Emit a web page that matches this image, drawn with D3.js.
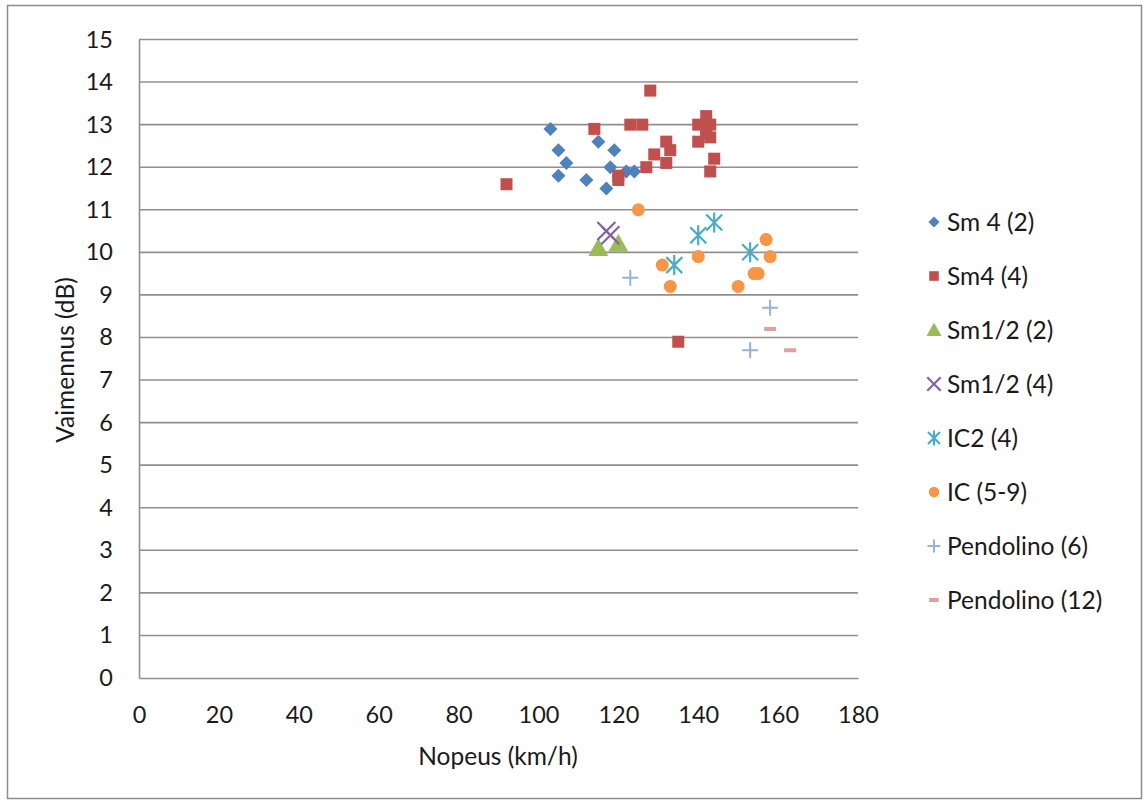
<!DOCTYPE html>
<html lang="fi">
<head>
<meta charset="UTF-8">
<title>Vaimennus vs. nopeus</title>
<script src="https://d3js.org/d3.v7.min.js"></script>
<style>
    body { margin: 0; background: #fff; }
    svg { display: block; font-family: Lato, "Open Sans", sans-serif; }
    .tick text { font-size: 23.5px; fill: #1a1a1a; }
    .title { font-size: 24.5px; fill: #1a1a1a; }
    .legend text { font-size: 24.5px; fill: #1a1a1a; }
</style>
</head>
<body>
<svg width="1144" height="803"></svg>
<script>
// data: [km/h, dB]
const sm4_2 = [[103,12.9],[105,12.4],[107,12.1],[105,11.8],[112,11.7],[115,12.6],[119,12.4],
    [118,12.0],[117,11.5],[122,11.9],[124,11.9]];
const sm4_4 = [[92,11.6],[128,13.8],[114,12.9],[123,13.0],[126,13.0],[120,11.8],[120,11.7],
    [127,12.0],[129,12.3],[132,12.6],[133,12.4],[132,12.1],[140,12.6],[140,13.0],[142,13.2],
    [143,13.0],[142,12.8],[142,12.9],[143,12.7],[144,12.2],[143,11.9],[135,7.9]];
const sm12_2 = [[115,10.1],[120,10.2]];
const sm12_4 = [[117,10.5],[118,10.4]];
const ic2_4 = [[134,9.7],[140,10.4],[144,10.7],[153,10.0]];
const ic5_9 = [[125,11.0],[131,9.7],[133,9.2],[140,9.9],[150,9.2],[154,9.5],[155,9.5],[157,10.3],[158,9.9]];
const pend6 = [[123,9.4],[158,8.7],[153,7.7]];
const pend12 = [[158,8.2],[163,7.7]];

const seriesNames = ['Sm 4 (2)', 'Sm4 (4)', 'Sm1/2 (2)', 'Sm1/2 (4)', 'IC2 (4)', 'IC (5-9)', 'Pendolino (6)', 'Pendolino (12)'];
const xTicks = d3.range(0, 181, 20);
const yTicks = d3.range(0, 16, 1);

const series = [
    { name: seriesNames[0], values: sm4_2, color: '#4F81BD', shape: 'diamond' },
    { name: seriesNames[1], values: sm4_4, color: '#C0504D', shape: 'square' },
    { name: seriesNames[2], values: sm12_2, color: '#9BBB59', shape: 'triangle' },
    { name: seriesNames[3], values: sm12_4, color: '#8064A2', shape: 'x' },
    { name: seriesNames[4], values: ic2_4, color: '#4BACC6', shape: 'star' },
    { name: seriesNames[5], values: ic5_9, color: '#F79646', shape: 'circle' },
    { name: seriesNames[6], values: pend6, color: '#95B3D7', shape: 'plus' },
    { name: seriesNames[7], values: pend12, color: '#E0A0A0', shape: 'dash' }
];

const svg = d3.select('svg');

svg.append('rect')
    .attr('x', 7.5).attr('y', 5.5)
    .attr('width', 1134).attr('height', 793)
    .attr('fill', '#fff').attr('stroke', '#8c8c8c').attr('stroke-width', 1.5);

const x = d3.scaleLinear().domain([0, 180]).range([139, 858]);
const y = d3.scaleLinear().domain([0, 15]).range([678, 39.5]);

// horizontal gridlines
svg.append('g')
    .selectAll('line')
    .data(yTicks.filter(d => d > 0))
    .join('line')
    .attr('x1', x(0)).attr('x2', x(180))
    .attr('y1', d => y(d)).attr('y2', d => y(d))
    .attr('stroke', '#8f8f8f').attr('stroke-width', 1.6);

const xAxis = svg.append('g')
    .attr('transform', `translate(0,${y(0)})`)
    .call(d3.axisBottom(x).tickValues(xTicks).tickSize(0).tickPadding(28));
xAxis.select('.domain').attr('stroke', '#8f8f8f').attr('stroke-width', 1.6);

const yAxis = svg.append('g')
    .attr('transform', `translate(${x(0)},0)`)
    .call(d3.axisLeft(y).tickValues(yTicks).tickSize(0).tickPadding(26));
yAxis.select('.domain').attr('stroke', '#8f8f8f').attr('stroke-width', 1.6);
svg.selectAll('.tick text').attr('font-family', 'Lato, sans-serif');

svg.append('text').attr('class', 'title')
    .attr('x', 498).attr('y', 765)
    .attr('text-anchor', 'middle')
    .text('Nopeus (km/h)');

svg.append('text').attr('class', 'title')
    .attr('transform', 'translate(74,360) rotate(-90)')
    .attr('text-anchor', 'middle')
    .text('Vaimennus (dB)');

function drawMarker(g, shape, color, k) {
    const s = k || 1;
    if (shape === 'diamond') {
        g.append('path').attr('d', `M0,${-7*s}L${7*s},0L0,${7*s}L${-7*s},0Z`).attr('fill', color);
    } else if (shape === 'square') {
        g.append('rect').attr('x', -6*s).attr('y', -6*s).attr('width', 12*s).attr('height', 12*s).attr('fill', color);
    } else if (shape === 'triangle') {
        g.append('path').attr('d', `M0,${-10*s}L${10*s},${8*s}L${-10*s},${8*s}Z`).attr('fill', color);
    } else if (shape === 'circle') {
        g.append('circle').attr('r', 6.5*s).attr('fill', color);
    } else if (shape === 'x') {
        g.append('path').attr('d', `M${-9*s},${-9*s}L${9*s},${9*s}M${9*s},${-9*s}L${-9*s},${9*s}`)
            .attr('stroke', color).attr('stroke-width', 2.2);
    } else if (shape === 'star') {
        g.append('path').attr('d', `M${-8*s},${-8*s}L${8*s},${8*s}M${8*s},${-8*s}L${-8*s},${8*s}M0,${-10*s}L0,${10*s}`)
            .attr('stroke', color).attr('stroke-width', 2.2);
    } else if (shape === 'plus') {
        g.append('path').attr('d', `M${-8*s},0L${8*s},0M0,${-8*s}L0,${8*s}`)
            .attr('stroke', color).attr('stroke-width', 2);
    } else if (shape === 'dash') {
        g.append('rect').attr('x', -6*s).attr('y', -2).attr('width', 12*s).attr('height', 4).attr('fill', color);
    }
}

series.forEach(sr => {
    sr.values.forEach(v => {
        const g = svg.append('g').attr('transform', `translate(${x(v[0])},${y(v[1])})`);
        drawMarker(g, sr.shape, sr.color);
    });
});

// legend
const legend = svg.append('g').attr('class', 'legend');
series.forEach((sr, i) => {
    const ly = 222 + i * 54;
    const g = legend.append('g').attr('transform', `translate(934,${ly})`);
    drawMarker(g, sr.shape, sr.color, sr.shape === 'triangle' || sr.shape === 'x' || sr.shape === 'star' ? 0.75 : 0.8);
    legend.append('text')
        .attr('x', 947).attr('y', ly)
        .attr('dy', '0.36em')
        .text(sr.name);
});
</script>
</body>
</html>
